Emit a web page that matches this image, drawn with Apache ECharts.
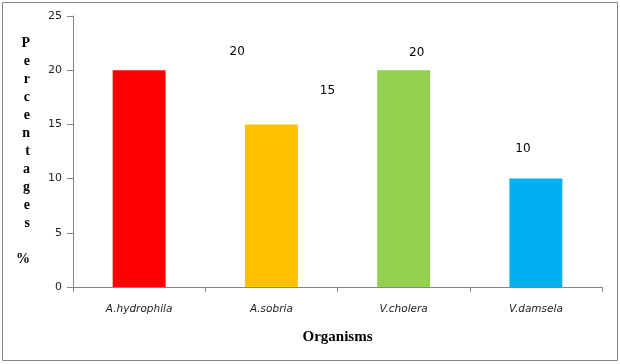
<!DOCTYPE html>
<html><head><meta charset="utf-8">
<script src="https://cdn.jsdelivr.net/npm/echarts@6/dist/echarts.min.js"></script>
<style>html,body{margin:0;padding:0;background:#fff}#c{width:620px;height:364px}</style>
</head><body><div id="c"></div>
<script>
const categories = ['A.hydrophila', 'A.sobria', 'V.cholera', 'V.damsela'];
const values = [20, 15, 20, 10];
const barColors = ['#ff0000', '#ffc000', '#92d050', '#00b0f0'];
const yTicks = [0, 5, 10, 15, 20, 25];
// label offsets (style only): [dx, dy]
const labelOffsets = [[98, -7], [56, -23], [13, -6], [-13, -19]];

const chart = echarts.init(document.getElementById('c'));
chart.setOption({
  animation: false,
  grid: { left: 73, right: 18, top: 16, bottom: 77, containLabel: false },
  graphic: [{
    type: 'rect', shape: { x: 2.5, y: 2.5, width: 615, height: 358 },
    style: { fill: 'none', stroke: '#868686', lineWidth: 1 }, silent: true
  }],
  xAxis: {
    type: 'category', data: categories,
    name: 'Organisms', nameLocation: 'middle', nameGap: 43,
    nameTextStyle: { fontFamily: 'Liberation Serif', fontWeight: 'bold', fontSize: 15, color: '#000' },
    axisLine: { lineStyle: { color: '#868686' } },
    axisTick: { show: true, length: 5, alignWithLabel: false, lineStyle: { color: '#868686' } },
    axisLabel: { fontFamily: 'DejaVu Sans', fontStyle: 'italic', fontSize: 10.5, color: '#222', margin: 17 }
  },
  yAxis: {
    type: 'value', min: yTicks[0], max: yTicks[yTicks.length - 1], interval: 5,
    name: 'P\ne\nr\nc\ne\nn\nt\na\ng\ne\ns\n\n%', nameLocation: 'middle', nameRotate: 0, nameGap: 43,
    nameTextStyle: { fontFamily: 'Liberation Serif', fontWeight: 'bold', fontSize: 14, lineHeight: 18, color: '#000' },
    axisLine: { show: true, lineStyle: { color: '#868686' } },
    axisTick: { show: true, length: 6, lineStyle: { color: '#868686' } },
    splitLine: { show: false },
    axisLabel: { fontFamily: 'DejaVu Sans', fontSize: 11, color: '#222', margin: 11 }
  },
  series: [{
    type: 'bar', barWidth: '40%',
    data: values.map((v, i) => ({
      value: v,
      itemStyle: { color: barColors[i] },
      label: { offset: labelOffsets[i] }
    })),
    label: { show: true, position: 'top', fontFamily: 'DejaVu Sans', fontSize: 12, color: '#000' }
  }]
});
</script></body></html>
